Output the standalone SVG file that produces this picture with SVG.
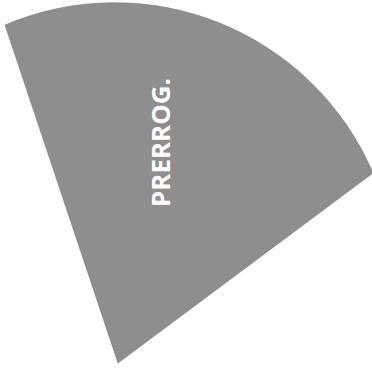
<svg xmlns="http://www.w3.org/2000/svg" width="372" height="373" viewBox="0 0 372 373">
<style>
.sector{fill:#8e8e8e;stroke:#7a7a7a;stroke-width:0.6}
.lbl{font-family:"Open Sans","Liberation Sans",sans-serif;font-weight:bold;font-size:25px;fill:#ffffff}
</style>
<rect width="372" height="373" fill="#ffffff"/>
<g id="sector">
<path class="sector" d="M118,363 L5,25 A281,281 0 0,1 373,173 Z"/>
<text class="lbl" x="170" y="142.5" text-anchor="middle" textLength="129" lengthAdjust="spacingAndGlyphs" transform="rotate(-90 170 142.5)">PRERROG.</text>
</g>
</svg>
